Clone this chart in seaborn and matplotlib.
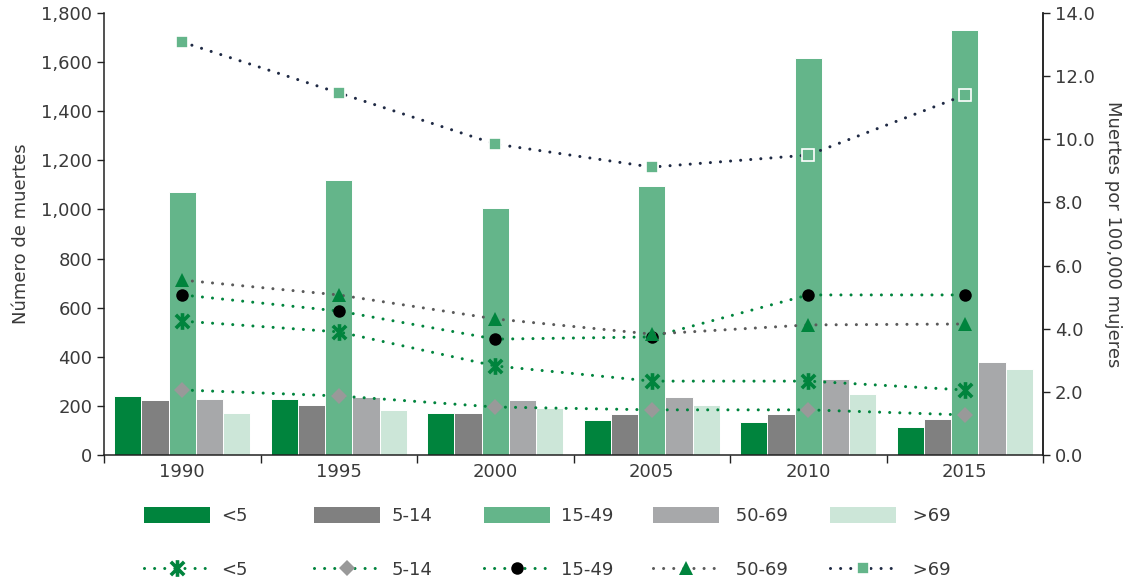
import numpy as np
import pandas as pd
import matplotlib
matplotlib.use("Agg")
import matplotlib.pyplot as plt
import seaborn as sns
from matplotlib.patches import Patch
from matplotlib.lines import Line2D
from matplotlib.path import Path
from matplotlib.ticker import FuncFormatter, FixedLocator

# ---------------- data ----------------
years = ["1990", "1995", "2000", "2005", "2010", "2015"]
age_groups = ["<5", "5-14", "15-49", "50-69", ">69"]

deaths_u5 = [240, 228, 171, 141, 134, 115]
deaths_5_14 = [224, 204, 171, 166, 166, 147]
deaths_15_49 = [1070, 1120, 1007, 1095, 1617, 1730]
deaths_50_69 = [228, 236, 223, 236, 309, 379]
deaths_70p = [171, 184, 191, 204, 248, 349]

rate_u5 = [4.24, 3.90, 2.82, 2.34, 2.34, 2.06]
rate_5_14 = [2.06, 1.87, 1.52, 1.43, 1.43, 1.27]
rate_15_49 = [5.07, 4.56, 3.67, 3.74, 5.07, 5.07]
rate_50_69 = [5.54, 5.07, 4.31, 3.83, 4.12, 4.15]
rate_70p = [13.08, 11.47, 9.85, 9.12, 9.50, 11.40]

left_ticks = [0, 200, 400, 600, 800, 1000, 1200, 1400, 1600, 1800]
right_ticks = [0, 2, 4, 6, 8, 10, 12, 14]

# ---------------- style ----------------
sns.set_style("white")
plt.rcParams["font.family"] = ["DejaVu Sans"]
FS = 13
TXT = "#3a3a3a"

bar_colors = ["#00843d", "#808080", "#64b58a", "#a7a8aa", "#cce6d8"]

df = pd.DataFrame({
    "year": np.repeat(years, len(age_groups)),
    "age": age_groups * len(years),
    "deaths": np.ravel(np.column_stack([deaths_u5, deaths_5_14, deaths_15_49,
                                        deaths_50_69, deaths_70p])),
})

fig = plt.figure(figsize=(11.32, 5.84), dpi=100)
ax = fig.add_axes([0.0919, 0.2209, 0.8295, 0.7568])

sns.barplot(data=df, x="year", y="deaths", hue="age", hue_order=age_groups,
            order=years, palette=bar_colors, width=0.87, ax=ax, legend=False,
            edgecolor="white", linewidth=0.7, saturation=1, errorbar=None)

ax.set_xlim(-0.5, len(years) - 0.5)
ax.set_ylim(0, 1800)
ax.yaxis.set_major_locator(FixedLocator(left_ticks))
ax.yaxis.set_major_formatter(FuncFormatter(lambda v, p: f"{v:,.0f}"))
ax.set_xlabel("")
ax.set_ylabel("Número de muertes", fontsize=FS, color=TXT, labelpad=8)
ax.tick_params(axis="y", which="major", direction="out", length=5, width=1,
               labelsize=FS, colors="#222222", labelcolor=TXT, left=True)
ax.tick_params(axis="x", which="major", length=0, labelsize=FS, labelcolor=TXT, pad=6)
ax.set_xticks(np.arange(-0.5, len(years)), minor=True)
ax.tick_params(axis="x", which="minor", direction="out", length=6, width=1,
               colors="#222222", bottom=True)
for s in ["left", "bottom", "right"]:
    ax.spines[s].set_visible(True)
    ax.spines[s].set_color("#222222")
    ax.spines[s].set_linewidth(1.1)
ax.spines["top"].set_visible(False)

# ---------------- lines on secondary axis ----------------
ax2 = ax.twinx()
ax2.set_ylim(0, 14)
ax2.yaxis.set_major_locator(FixedLocator(right_ticks))
ax2.yaxis.set_major_formatter(FuncFormatter(lambda v, p: f"{v:.1f}"))
ax2.set_ylabel("Muertes por 100,000 mujeres", fontsize=FS, color=TXT,
               rotation=270, labelpad=20)
ax2.tick_params(axis="y", direction="out", length=5, width=1, labelsize=FS,
                colors="#222222", labelcolor=TXT, right=True)
for s in ["top", "left", "bottom"]:
    ax2.spines[s].set_visible(False)
ax2.spines["right"].set_color("#222222")
ax2.spines["right"].set_linewidth(1.1)

# Excel-style "star" marker: an X with a vertical stroke
star_path = Path(
    [(-1, -1), (1, 1), (-1, 1), (1, -1), (0, -1.25), (0, 1.25)],
    [Path.MOVETO, Path.LINETO, Path.MOVETO, Path.LINETO, Path.MOVETO, Path.LINETO],
)

xpos = np.arange(len(years))
dots = (0, (0.01, 3.3))
series = [
    (rate_u5, "#00843d", dict(marker=star_path, markersize=12, markeredgewidth=2.6,
                              markeredgecolor="#00843d", markerfacecolor="none")),
    (rate_5_14, "#00843d", dict(marker="D", markersize=8, markeredgewidth=0,
                                markerfacecolor="#999999")),
    (rate_15_49, "#00843d", dict(marker="o", markersize=9, markeredgewidth=0,
                                 markerfacecolor="black")),
    (rate_50_69, "#5a5a5a", dict(marker="^", markersize=10, markeredgewidth=0,
                                 markerfacecolor="#00843d")),
    (rate_70p, "#1f2a44", dict(marker="s", markersize=8.5, markeredgewidth=1.2,
                               markeredgecolor="white", markerfacecolor="#64b58a")),
]
line_handles = []
for vals, lc, mk in series:
    sns.lineplot(x=xpos, y=vals, ax=ax2, color=lc, linewidth=2.2,
                 linestyle=dots, dash_capstyle="round", legend=False, **mk)
    line_handles.append(Line2D([0], [0], color=lc, linewidth=2.2, linestyle=dots,
                               dash_capstyle="round", **mk))

# ---------------- legends ----------------
bar_handles = [Patch(facecolor=c, edgecolor="none") for c in bar_colors]
leg_labels = ["<5", "5-14", "15-49", " 50-69", " >69"]
xs = [144, 314, 484, 653, 830]
for i in range(5):
    fig.legend([bar_handles[i]], [leg_labels[i]], loc="center left",
               bbox_to_anchor=(xs[i] / 1132, 1 - 516 / 584),
               frameon=False, borderpad=0, borderaxespad=0,
               handlelength=3.67, handleheight=1.0, handletextpad=0.6,
               fontsize=FS, labelcolor=TXT)
    fig.legend([line_handles[i]], [leg_labels[i]], loc="center left",
               bbox_to_anchor=(xs[i] / 1132, 1 - 570 / 584),
               frameon=False, borderpad=0, borderaxespad=0,
               handlelength=3.67, handleheight=1.0, handletextpad=0.6,
               numpoints=1, fontsize=FS, labelcolor=TXT)

fig.savefig("out.png", dpi=100)
